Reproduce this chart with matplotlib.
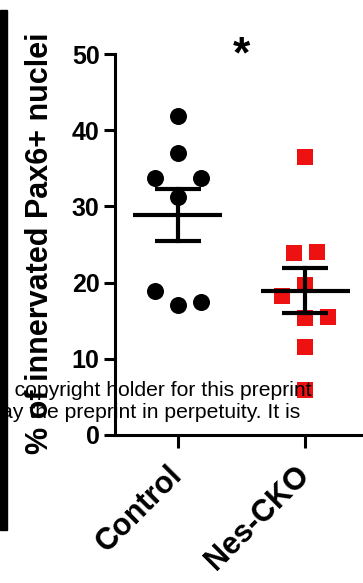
import matplotlib
matplotlib.use('Agg')
import matplotlib.pyplot as plt
import numpy as np

plt.rcParams['font.family'] = ['Liberation Sans', 'DejaVu Sans']

# values
groups = ['Control', 'Nes-CKO']
control = [41.9, 37.0, 33.7, 33.7, 31.2, 18.9, 17.1, 17.5]
control_dx = [0, 0, -0.18, 0.18, 0, -0.18, 0, 0.18]
nes_cko = [36.5, 23.9, 24.0, 19.7, 18.2, 15.4, 15.5, 11.5, 5.9]
nes_dx = [0, -0.09, 0.09, 0, -0.18, 0, 0.18, 0, 0]
y_ticks = [0, 10, 20, 30, 40, 50]

fig = plt.figure(figsize=(3.63, 5.83), dpi=100)
ax = fig.add_axes([115 / 363, 148 / 583, 248 / 363, 381 / 583])

ax.scatter(np.array(control_dx) + 0, control, s=150, marker='o', color='black', zorder=3, linewidths=0)
ax.scatter(np.array(nes_dx) + 1, nes_cko, s=130, marker='s', color='#ee1111', zorder=3, linewidths=0)

# mean +/- SEM
for i, vals in enumerate([control, nes_cko]):
    m = np.mean(vals)
    sem = np.std(vals, ddof=1) / np.sqrt(len(vals))
    ax.plot([i - 0.35, i + 0.35], [m, m], color='black', lw=3, zorder=4, solid_capstyle='butt')
    ax.plot([i, i], [m - sem, m + sem], color='black', lw=3, zorder=4)
    ax.plot([i - 0.18, i + 0.18], [m + sem, m + sem], color='black', lw=3, zorder=4, solid_capstyle='butt')
    ax.plot([i - 0.18, i + 0.18], [m - sem, m - sem], color='black', lw=3, zorder=4, solid_capstyle='butt')

ax.set_xlim(-0.49, 1.45)
ax.set_ylim(0, 50)
ax.set_yticks(y_ticks)
ax.set_xticks([0, 1])
ax.set_xticklabels(groups, rotation=45, ha='right', va='center', rotation_mode='anchor',
                   fontsize=22, fontweight='bold')
ax.tick_params(axis='y', labelsize=18, width=2.2, length=8, direction='out', pad=3)
ax.tick_params(axis='x', width=2.2, length=9, direction='out', pad=17)
for lab in ax.get_yticklabels():
    lab.set_fontweight('bold')
for side in ['top', 'right']:
    ax.spines[side].set_visible(False)
for side in ['left', 'bottom']:
    ax.spines[side].set_linewidth(2.2)

fig.text(40 / 363, 1 - 243 / 583, '% of innervated Pax6+ nuclei', rotation=90,
         ha='center', va='center', fontsize=22, fontweight='bold')

ax.text(0.5, 48.3, '*', ha='center', va='baseline', fontsize=32, fontweight='bold',
        clip_on=False)

# preprint watermark
fig.text(-3 / 363, 1 - 390 / 583, 'e copyright holder for this preprint', fontsize=15.2,
         va='center', ha='left', zorder=10)
fig.text(1 / 363, 1 - 413 / 583, 'ay the preprint in perpetuity. It is', fontsize=15.2,
         va='center', ha='left', zorder=10)

# black frame edge at the left of the crop
fig.patches.append(plt.Rectangle((0, 53 / 583), 7 / 363, 520 / 583, transform=fig.transFigure,
                                 color='black', zorder=20))

fig.savefig('out.png', dpi=100)
